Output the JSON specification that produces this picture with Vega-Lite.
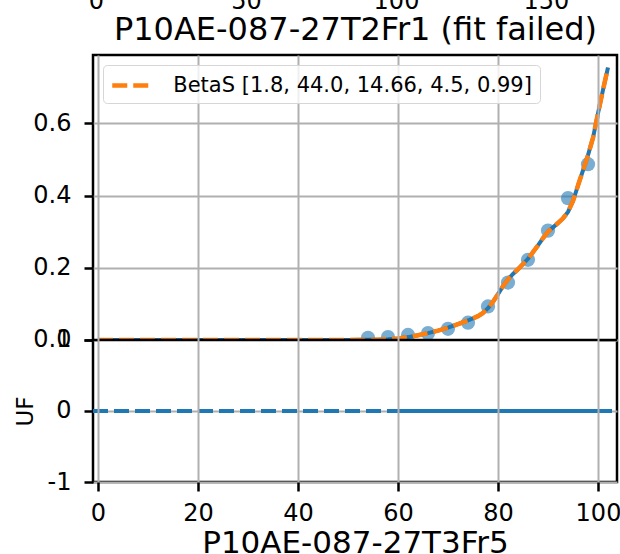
{
  "$schema": "https://vega.github.io/schema/vega-lite/v6.json",
  "width": 524,
  "height": 427,
  "autosize": {"type": "none"},
  "padding": {"left": 93, "top": 55, "right": 3, "bottom": 72},
  "background": "white",
  "config": {
    "font": "DejaVu Sans",
    "view": {"stroke": "black", "strokeWidth": 2.5},
    "axis": {
      "labelFont": "DejaVu Sans",
      "titleFont": "DejaVu Sans",
      "labelColor": "black",
      "titleColor": "black",
      "tickColor": "black",
      "domain": false,
      "gridColor": "#b0b0b0",
      "gridWidth": 2,
      "gridOpacity": 1,
      "tickWidth": 2.5,
      "tickSize": 9,
      "labelFontSize": 24,
      "labelFlush": false,
      "labelOverlap": false,
      "titleFontWeight": "normal"
    }
  },
  "datasets": {
    "points": [
      {"x": 54, "uf": 0.006}, {"x": 58, "uf": 0.008}, {"x": 62, "uf": 0.014},
      {"x": 66, "uf": 0.019}, {"x": 70, "uf": 0.031}, {"x": 74, "uf": 0.048},
      {"x": 78, "uf": 0.093}, {"x": 82, "uf": 0.159}, {"x": 86, "uf": 0.222},
      {"x": 90, "uf": 0.303}, {"x": 94, "uf": 0.393}, {"x": 98, "uf": 0.487}
    ],
    "curve": [
      {"x": 0, "uf": 0}, {"x": 50, "uf": 0}, {"x": 54, "uf": 0.0005}, {"x": 56, "uf": 0.001},
      {"x": 58, "uf": 0.002}, {"x": 60, "uf": 0.004}, {"x": 62, "uf": 0.008}, {"x": 64, "uf": 0.013},
      {"x": 66, "uf": 0.019}, {"x": 68, "uf": 0.026}, {"x": 70, "uf": 0.034}, {"x": 72, "uf": 0.044},
      {"x": 74, "uf": 0.054}, {"x": 76, "uf": 0.066}, {"x": 77, "uf": 0.075}, {"x": 78, "uf": 0.088},
      {"x": 79, "uf": 0.106}, {"x": 80, "uf": 0.127}, {"x": 81, "uf": 0.149}, {"x": 82, "uf": 0.168},
      {"x": 83, "uf": 0.183}, {"x": 84, "uf": 0.196}, {"x": 86, "uf": 0.225}, {"x": 88, "uf": 0.262},
      {"x": 89, "uf": 0.282}, {"x": 90, "uf": 0.3}, {"x": 91, "uf": 0.312}, {"x": 92, "uf": 0.324},
      {"x": 93, "uf": 0.337}, {"x": 94, "uf": 0.355}, {"x": 95, "uf": 0.385}, {"x": 96, "uf": 0.428},
      {"x": 97, "uf": 0.47}, {"x": 98, "uf": 0.512}, {"x": 99, "uf": 0.56}, {"x": 100, "uf": 0.628},
      {"x": 101, "uf": 0.693}, {"x": 102, "uf": 0.755}
    ],
    "zeroA": [{"x": -1, "uf": 0}, {"x": 104, "uf": 0}],
    "zeroB": [{"x": 58.4, "uf": 0}, {"x": 99.8, "uf": 0}]
  },
  "layer": [
    {
      "encoding": {
        "x": {"field": "x", "type": "quantitative", "scale": {"domain": [-1, 103.8], "nice": false, "zero": false}, "axis": null},
        "y": {
          "field": "uf", "type": "quantitative",
          "scale": {"domain": [-0.3934, 0.7895], "nice": false, "zero": false},
          "axis": {"orient": "left", "values": [0, 0.2, 0.4, 0.6], "format": ".1f", "grid": true, "title": null, "labelPadding": 13}
        }
      },
      "layer": [
        {"data": {"name": "points"}, "mark": {"type": "circle", "size": 201, "color": "#1f77b4", "opacity": 0.6}},
        {"data": {"name": "curve"}, "mark": {"type": "line", "color": "#1f77b4", "strokeWidth": 4}},
        {
          "data": {"name": "curve"},
          "mark": {"type": "line", "strokeWidth": 4.5, "strokeDash": [15, 6]},
          "encoding": {
            "color": {
              "datum": "BetaS [1.8, 44.0, 14.66, 4.5, 0.99]",
              "scale": {"range": ["#ff7f0e"]},
              "legend": {
                "orient": "top-left", "offset": 10, "title": null, "zindex": 2,
                "symbolType": "M-2,0H2", "symbolSize": 441, "symbolStrokeWidth": 4.5, "symbolDash": [15, 6],
                "symbolStrokeColor": "#ff7f0e", "symbolFillColor": "transparent", "symbolOffset": 9.75,
                "labelFontSize": 21, "labelFont": "DejaVu Sans", "labelColor": "black", "labelOffset": 27, "labelLimit": 600,
                "padding": 7.5, "strokeColor": "#d6d6d6", "fillColor": "rgba(255,255,255,0.8)", "cornerRadius": 4
              }
            }
          }
        }
      ]
    },
    {
      "layer": [
        {
          "data": {"values": [{}]},
          "mark": {"type": "rect", "color": "white"},
          "encoding": {
            "x": {"datum": 0, "type": "quantitative", "scale": {"domain": [-1, 103.8], "nice": false, "zero": false}},
            "x2": {"datum": 100},
            "y": {"datum": 0.5, "type": "quantitative", "scale": {"domain": [-1, 5.014], "nice": false, "zero": false}},
            "y2": {"datum": 1}
          }
        },
        {
          "data": {"name": "zeroA"},
          "mark": {"type": "line", "color": "#1f77b4", "strokeWidth": 4, "strokeDash": [15, 6], "clip": true},
          "encoding": {
            "x": {
              "field": "x", "type": "quantitative",
              "scale": {"domain": [-1, 103.8], "nice": false, "zero": false},
              "axis": {
                "orient": "bottom", "values": [0, 20, 40, 60, 80, 100], "grid": true, "zindex": 1, "labelPadding": 10,
                "title": "P10AE-087-27T3Fr5", "titleFontSize": 31, "titleX": 262, "titleY": 70.6,
                "titleBaseline": "alphabetic", "titleAlign": "center"
              }
            },
            "y": {
              "field": "uf", "type": "quantitative",
              "scale": {"domain": [-1, 5.014], "nice": false, "zero": false},
              "axis": {
                "orient": "left", "values": [-1, 0, 1], "labelExpr": "'' + datum.value", "grid": true, "labelPadding": 13,
                "title": "UF", "titleFontSize": 23, "titleX": -61, "titleY": 356, "titleAngle": 270,
                "titleBaseline": "alphabetic", "titleAlign": "center"
              }
            }
          }
        },
        {
          "data": {"name": "zeroB"},
          "mark": {"type": "line", "color": "#1f77b4", "strokeWidth": 4},
          "encoding": {
            "x": {"field": "x", "type": "quantitative", "scale": {"domain": [-1, 103.8], "nice": false, "zero": false}},
            "y": {"field": "uf", "type": "quantitative", "scale": {"domain": [-1, 5.014], "nice": false, "zero": false}}
          }
        },
        {
          "data": {"values": [{}]},
          "mark": {"type": "rule", "color": "black", "strokeWidth": 2.5},
          "encoding": {
            "y": {"datum": 1, "type": "quantitative", "scale": {"domain": [-1, 5.014], "nice": false, "zero": false}}
          }
        }
      ]
    },
    {
      "data": {"values": [{}]},
      "mark": {"type": "rule", "opacity": 0},
      "encoding": {
        "x": {
          "datum": 0, "type": "quantitative",
          "scale": {"domain": [-1, 173.67], "nice": false, "zero": false},
          "axis": {
            "orient": "top", "values": [0, 50, 100, 150], "ticks": false, "tickSize": 0, "grid": false, "domain": false,
            "labelPadding": 47, "labelBaseline": "alphabetic", "labelFontSize": 24,
            "title": "P10AE-087-27T2Fr1 (fit failed)", "titleFontSize": 32, "titleX": 262, "titleY": -15.7,
            "titleBaseline": "alphabetic", "titleAlign": "center"
          }
        }
      }
    }
  ],
  "resolve": {
    "scale": {"x": "independent", "y": "independent"},
    "axis": {"x": "independent", "y": "independent"}
  }
}
